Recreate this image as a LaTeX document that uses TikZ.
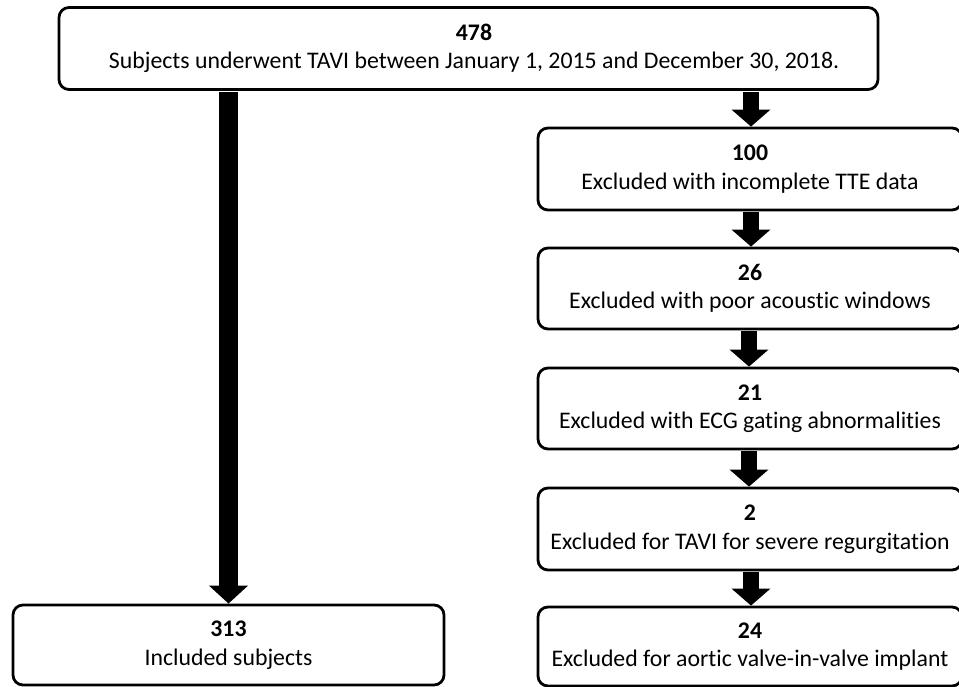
\documentclass[tikz,border=0pt]{standalone}
\usepackage{fontspec}
\setmainfont{Carlito}[Ligatures=NoCommon]
\usetikzlibrary{arrows.meta}
\tikzset{
  flowbox/.style={draw=black, line width=2.8pt, rounded corners=10pt, fill=white,
    align=center, inner sep=0pt, font=\fontsize{23.8}{28.5}\selectfont},
  bigarrow/.style={line width=16pt, -{Triangle[width=38pt,length=17pt]}},
  leftarrow/.style={line width=19pt, -{Triangle[width=38pt,length=18pt]}}
}
\begin{document}
\begin{tikzpicture}[x=1pt,y=-1pt]
\useasboundingbox (0,0) rectangle (959,687);
\fill[white] (0,0) rectangle (959,687);

\node[flowbox, minimum width=819pt, minimum height=82pt] (top) at (468.5,48.5)
  {\hspace*{11pt}\textbf{478}\\\hspace*{11pt}Subjects underwent TAVI between January 1, 2015 and December 30, 2018.};

\node[flowbox, minimum width=424pt, minimum height=82pt] (b1) at (750,169)
  {\textbf{100}\\Excluded with incomplete TTE data};
\node[flowbox, minimum width=424pt, minimum height=81pt] (b2) at (750,288.5)
  {\textbf{26}\\Excluded with poor acoustic windows};
\node[flowbox, minimum width=424pt, minimum height=81pt] (b3) at (750,408.5)
  {\textbf{21}\\Excluded with ECG gating abnormalities};
\node[flowbox, minimum width=424pt, minimum height=82pt] (b4) at (750,529)
  {\textbf{2}\\Excluded for TAVI for severe regurgitation};
\node[flowbox, minimum width=424pt, minimum height=79pt] (b5) at (750,646.5)
  {\textbf{24}\\Excluded for aortic valve-in-valve implant};

\node[flowbox, minimum width=431pt, minimum height=80pt] (incl) at (228.5,645)
  {\textbf{313}\\Included subjects};

\draw[leftarrow] ([yshift=-1pt]top.south -| incl.north) -- (incl.north);
\coordinate (t1) at ([yshift=-1pt]top.south -| 751,0);
\draw[bigarrow] (t1) -- (t1 |- b1.north);
\coordinate (t2) at ([yshift=-1pt]b1.south -| 751,0);
\draw[bigarrow] (t2) -- (t2 |- b2.north);
\coordinate (t3) at ([yshift=-1pt]b2.south -| 749,0);
\draw[bigarrow] (t3) -- (t3 |- b3.north);
\coordinate (t4) at ([yshift=-1pt]b3.south -| 749,0);
\draw[bigarrow] (t4) -- (t4 |- b4.north);
\coordinate (t5) at ([yshift=-1pt]b4.south -| 751,0);
\draw[bigarrow] (t5) -- (t5 |- b5.north);
\end{tikzpicture}
\end{document}
